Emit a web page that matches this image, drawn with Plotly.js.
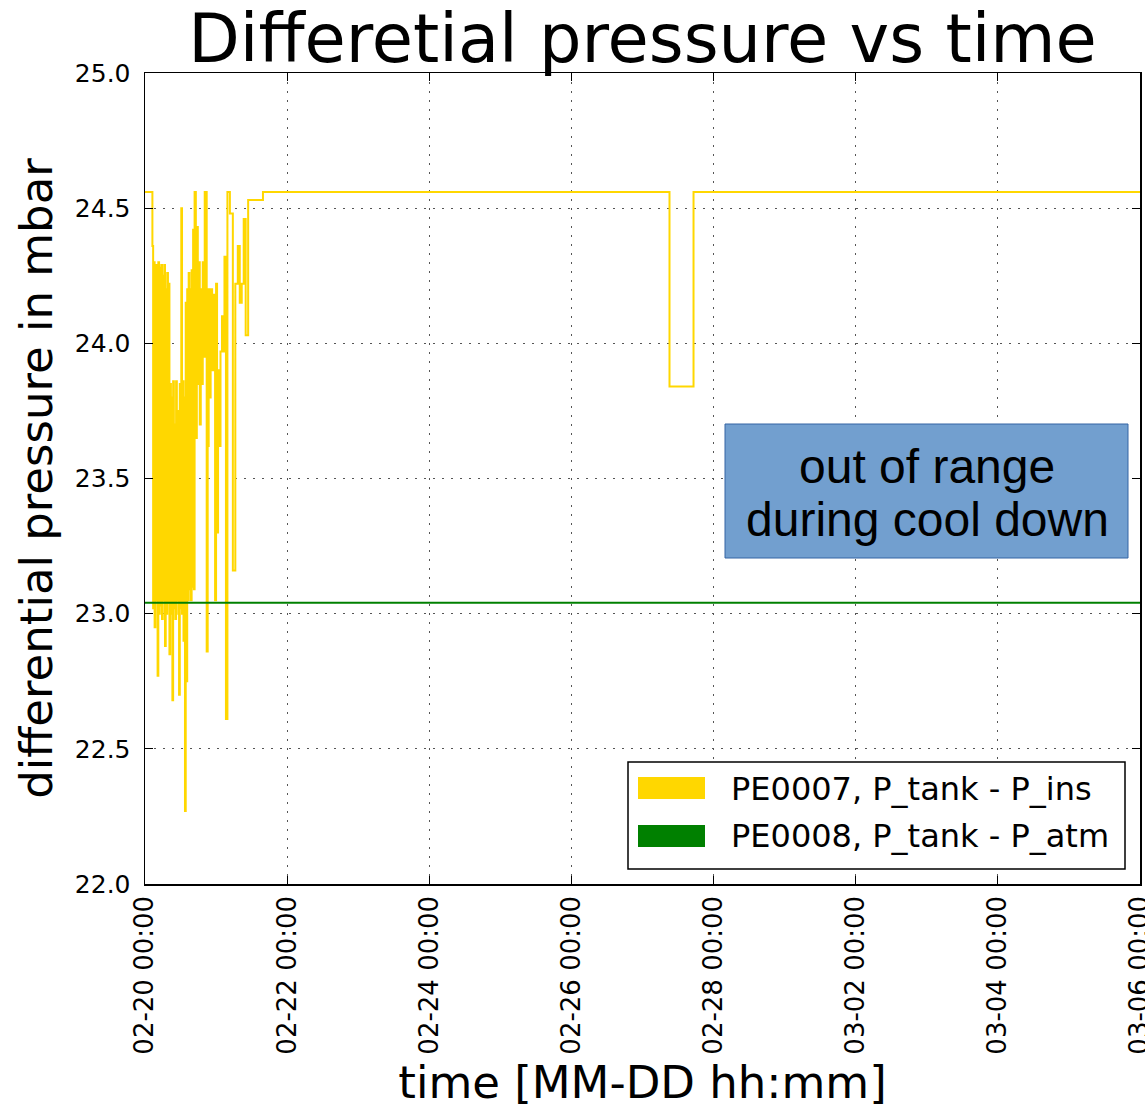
<!DOCTYPE html>
<html>
<head>
<meta charset="utf-8">
<script src="https://cdn.plot.ly/plotly-3.0.1.min.js"></script>
<style>
  html, body { margin: 0; padding: 0; background: #fff; }
  #chart { width: 1145px; height: 1109px; }
</style>
</head>
<body>
<div id="chart"></div>
<script>
// ---- data ----
const pe0007Name = 'PE0007, P_tank - P_ins';
const pe0008Name = 'PE0008, P_tank - P_atm';

const pe0007Times = [
  '2017-02-20 00:00',
  '2017-02-20 02:30','2017-02-20 02:45','2017-02-20 03:00','2017-02-20 03:15','2017-02-20 03:30',
  '2017-02-20 03:45','2017-02-20 04:00','2017-02-20 04:15','2017-02-20 04:30','2017-02-20 04:45',
  '2017-02-20 05:00','2017-02-20 05:15','2017-02-20 05:30','2017-02-20 05:45','2017-02-20 06:00',
  '2017-02-20 06:15','2017-02-20 06:30','2017-02-20 06:45','2017-02-20 07:00','2017-02-20 07:15',
  '2017-02-20 07:30','2017-02-20 07:45','2017-02-20 08:00','2017-02-20 08:15','2017-02-20 08:30',
  '2017-02-20 08:45','2017-02-20 09:00','2017-02-20 09:15','2017-02-20 09:30','2017-02-20 09:45',
  '2017-02-20 10:00','2017-02-20 10:15','2017-02-20 10:30','2017-02-20 10:45','2017-02-20 11:00',
  '2017-02-20 11:15','2017-02-20 11:30','2017-02-20 11:45','2017-02-20 12:00','2017-02-20 12:15',
  '2017-02-20 12:30','2017-02-20 12:45','2017-02-20 13:00','2017-02-20 13:15','2017-02-20 13:30',
  '2017-02-20 13:45','2017-02-20 14:00','2017-02-20 14:15','2017-02-20 14:30','2017-02-20 14:45',
  '2017-02-20 15:00','2017-02-20 15:15','2017-02-20 15:30','2017-02-20 15:45','2017-02-20 16:00',
  '2017-02-20 16:15','2017-02-20 16:30','2017-02-20 16:45',
  '2017-02-20 17:10','2017-02-20 17:30','2017-02-20 17:50','2017-02-20 18:10','2017-02-20 18:30',
  '2017-02-20 18:50','2017-02-20 19:10','2017-02-20 19:30','2017-02-20 19:50','2017-02-20 20:10',
  '2017-02-20 20:50','2017-02-20 21:10','2017-02-20 21:30','2017-02-20 21:50','2017-02-20 22:10',
  '2017-02-20 22:40','2017-02-20 23:10','2017-02-20 23:40','2017-02-21 00:00','2017-02-21 00:20',
  '2017-02-21 00:40','2017-02-21 01:00','2017-02-21 01:30','2017-02-21 02:00','2017-02-21 02:30',
  '2017-02-21 02:50','2017-02-21 03:20','2017-02-21 03:50','2017-02-21 04:40','2017-02-21 05:40',
  '2017-02-21 06:30','2017-02-21 07:20','2017-02-21 08:00','2017-02-21 08:40','2017-02-21 09:20',
  '2017-02-21 10:00','2017-02-21 10:50','2017-02-21 15:50','2017-02-27 09:07','2017-02-27 17:14',
  '2017-03-06 00:00'
];
const pe0007Values = [
  24.56,
  24.36, 23.02, 24.30, 22.95, 24.29,
  23.05, 24.29, 22.77, 24.30, 23.00,
  24.28, 23.03, 24.29, 22.98, 24.25,
  23.05, 24.29, 22.88, 24.20, 23.00,
  24.26, 23.04, 24.22, 22.85, 23.85,
  23.00, 23.80, 22.68, 23.86, 23.02,
  23.70, 22.98, 23.86, 23.05, 23.75,
  23.00, 22.70, 23.85, 23.02, 24.50,
  23.00, 23.86, 22.90, 23.80, 22.27,
  24.15, 22.75, 24.20, 23.05, 24.26,
  23.09, 24.20, 23.05, 24.27, 23.10,
  24.42, 23.09, 24.56,
  23.65, 24.43, 23.85, 24.30, 23.70,
  24.20, 23.85, 24.30, 23.95, 24.56,
  22.86, 23.62, 24.20, 23.80, 24.20,
  23.90, 24.18, 23.05, 24.22, 23.30,
  23.90, 23.62, 23.97, 24.10, 23.97,
  24.32, 22.61, 24.56, 24.48, 23.16,
  24.22, 24.36, 24.15, 24.22, 24.46,
  24.03, 24.53, 24.56, 23.84, 24.56,
  24.56
];

const pe0008Times = ['2017-02-20 00:00', '2017-03-06 00:00'];
const pe0008Values = [23.04, 23.04];

const xRange = ['2017-02-20 00:00', '2017-03-06 00:00'];
const yRange = [22.0, 25.0];

const titleText = 'Differetial pressure vs time';
const xTitle = 'time [MM-DD hh:mm]';
const yTitle = 'differential pressure in mbar';
const boxLines = ['out of range', 'during cool down'];

// ---- styles ----
const YELLOW = '#FFD700';
const GREEN = '#008000';
const FONT = 'DejaVu Sans, sans-serif';

const traces = [
  { x: pe0007Times, y: pe0007Values, name: pe0007Name, type: 'scatter', mode: 'lines',
    line: { color: YELLOW, width: 2, shape: 'hv' }, showlegend: false, hoverinfo: 'skip' },
  { x: pe0008Times, y: pe0008Values, name: pe0008Name, type: 'scatter', mode: 'lines',
    line: { color: GREEN, width: 2 }, showlegend: false, hoverinfo: 'skip' }
];

// paper-coordinate helpers (plot area: 145..1140 x, 73..884 y)
const PL = 145, PR = 1140, PT = 73, PB = 884;
const px = v => (v - PL) / (PR - PL);
const py = v => (PB - v) / (PB - PT);

const shapes = [
  // text box
  { type: 'rect', xref: 'paper', yref: 'paper', x0: px(725), x1: px(1128), y0: py(558), y1: py(424),
    fillcolor: '#729FCF', line: { color: '#3465A4', width: 1 }, layer: 'above' },
  // legend frame
  { type: 'rect', xref: 'paper', yref: 'paper', x0: px(628), x1: px(1125), y0: py(869), y1: py(762),
    fillcolor: '#ffffff', line: { color: '#000000', width: 1.5 }, layer: 'above' },
  { type: 'rect', xref: 'paper', yref: 'paper', x0: px(638), x1: px(705), y0: py(799), y1: py(777),
    fillcolor: YELLOW, line: { width: 0 }, layer: 'above' },
  { type: 'rect', xref: 'paper', yref: 'paper', x0: px(638), x1: px(705), y0: py(847), y1: py(825),
    fillcolor: GREEN, line: { width: 0 }, layer: 'above' }
];

const annotations = [
  { xref: 'paper', yref: 'paper', x: px(927), y: py(466), text: boxLines[0], showarrow: false,
    xanchor: 'center', yanchor: 'middle', font: { family: 'Liberation Sans, Arial, sans-serif', size: 48, color: '#000' } },
  { xref: 'paper', yref: 'paper', x: px(927), y: py(519), text: boxLines[1], showarrow: false,
    xanchor: 'center', yanchor: 'middle', font: { family: 'Liberation Sans, Arial, sans-serif', size: 48, color: '#000' } },
  { xref: 'paper', yref: 'paper', x: px(729), y: py(789), text: pe0007Name, showarrow: false,
    xanchor: 'left', yanchor: 'middle', font: { family: FONT, size: 32, color: '#000' } },
  { xref: 'paper', yref: 'paper', x: px(729), y: py(836), text: pe0008Name, showarrow: false,
    xanchor: 'left', yanchor: 'middle', font: { family: FONT, size: 32, color: '#000' } }
];

const layout = {
  width: 1145, height: 1109,
  margin: { l: PL, r: 1145 - PR, t: PT, b: 1109 - PB, pad: 0 },
  paper_bgcolor: '#fff', plot_bgcolor: '#fff',
  font: { family: FONT, color: '#000' },
  title: { text: titleText, font: { family: FONT, size: 67, color: '#000' },
           xref: 'paper', x: 0.5, xanchor: 'center', yref: 'paper', y: 1, yanchor: 'bottom', pad: { b: 11 } },
  showlegend: false,
  xaxis: {
    type: 'date', range: xRange, tick0: xRange[0], dtick: 2 * 86400000,
    tickformat: '%m-%d %H:%M', tickangle: -90, ticklabeloverflow: 'allow',
    tickfont: { family: FONT, size: 26, color: '#000' },
    ticks: 'inside', ticklen: 8, tickwidth: 1, tickcolor: '#000',
    showline: true, linecolor: '#000', linewidth: 1.5, mirror: 'ticks',
    showgrid: true, gridcolor: '#555', griddash: '2px,7px', gridwidth: 1.2,
    zeroline: false,
    title: { text: xTitle, font: { family: FONT, size: 45, color: '#000' }, standoff: 20 }
  },
  yaxis: {
    range: yRange, dtick: 0.5, tick0: 22, tickformat: '.1f',
    tickfont: { family: FONT, size: 25, color: '#000' },
    ticks: 'inside', ticklen: 8, tickwidth: 1, tickcolor: '#000',
    ticklabelstandoff: 8,
    showline: true, linecolor: '#000', linewidth: 1.5, mirror: 'ticks',
    showgrid: true, gridcolor: '#555', griddash: '2px,7px', gridwidth: 1.2,
    zeroline: false,
    title: { text: yTitle, font: { family: FONT, size: 45, color: '#000' }, standoff: 8 }
  },
  shapes: shapes,
  annotations: annotations
};

Plotly.newPlot('chart', traces, layout, { staticPlot: true, displayModeBar: false });
</script>
</body>
</html>
